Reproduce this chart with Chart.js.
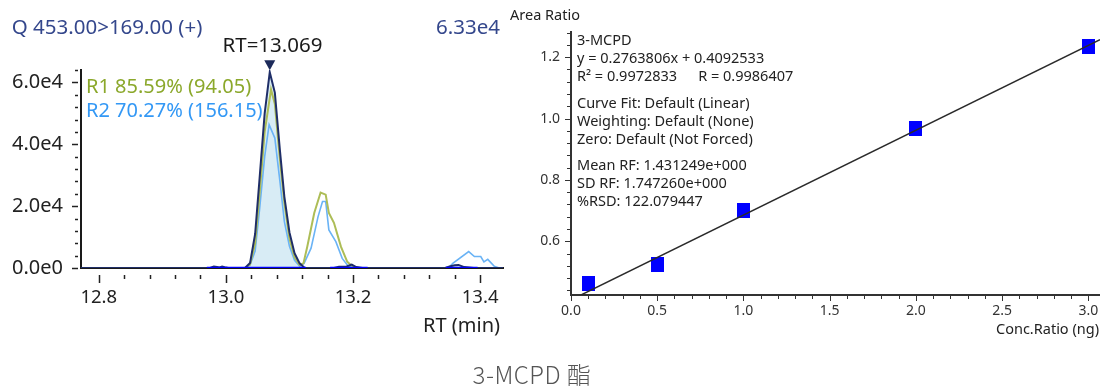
<!DOCTYPE html>
<html>
<head>
<meta charset="utf-8">
<script src="https://cdn.jsdelivr.net/npm/chart.js@4.4.0/dist/chart.umd.min.js"></script>
<style>
  body { margin: 0; width: 1100px; height: 386px; background: #fff; position: relative; overflow: hidden; font-family: 'Noto Sans', sans-serif; }
  .txt { position: absolute; white-space: pre; line-height: 1; }
  #chromChart { position: absolute; left: 0; top: 0; }
  #calChart { position: absolute; left: 505px; top: 0; }
  #calInfo { position: absolute; left: 577px; top: 30.4px; font-size: 14.5px; line-height: 18px; color: #222; }
  #calInfo div div { white-space: nowrap; }
  #calInfo .grp { margin-top: 8.5px; }
  #calInfo .grp:first-child { margin-top: 0; }
</style>
</head>
<body>
<canvas id="chromChart" width="510" height="345"></canvas>
<canvas id="calChart" width="595" height="345"></canvas>

<div class="txt" style="left:11.7px; top:16.1px; font-size:20.5px; color:#34478c;">Q 453.00&gt;169.00 (+)</div>
<div class="txt" style="right:600px; top:16.1px; font-size:20.5px; color:#34478c;">6.33e4</div>
<div class="txt" style="left:272.5px; top:33.5px; font-size:20.5px; color:#1a1a1a; transform:translateX(-50%);">RT=13.069</div>
<div class="txt" style="left:86px; top:76.2px; font-size:20px; color:#8ba82b;">R1 85.59% (94.05)</div>
<div class="txt" style="left:86px; top:99.9px; font-size:20px; color:#3398f5;">R2 70.27% (156.15)</div>
<div class="txt" style="right:600px; top:315.2px; font-size:20px; color:#222;">RT (min)</div>

<div class="txt" style="left:510px; top:7.1px; font-size:14.5px; color:#222;">Area Ratio</div>
<div id="calInfo"><div class="grp"><div>3-MCPD</div><div>y = 0.2763806x + 0.4092533</div><div>R² = 0.9972833<span style="display:inline-block; margin-left:21px;">R = 0.9986407</span></div></div><div class="grp"><div>Curve Fit: Default (Linear)</div><div>Weighting: Default (None)</div><div>Zero: Default (Not Forced)</div></div><div class="grp"><div>Mean RF: 1.431249e+000</div><div>SD RF: 1.747260e+000</div><div>%RSD: 122.079447</div></div></div>
<div class="txt" style="right:1px; top:321.4px; font-size:14.5px; color:#222;">Conc.Ratio (ng)</div>

<div class="txt" style="left:532px; top:362.2px; font-size:24px; font-weight:300; letter-spacing:0.5px; color:#555; font-family:'Noto Sans CJK SC', sans-serif; transform:translateX(-50%);">3-MCPD 酯</div>

<script>
// chromatogram: quantifier trace (navy) and two qualifier traces
const quantRT  = [12.77, 12.975, 12.981, 12.986, 12.990, 12.994, 12.998, 13.004, 13.030, 13.038, 13.046, 13.053, 13.061, 13.069, 13.077, 13.085, 13.092, 13.100, 13.108, 13.116, 13.124, 13.170, 13.178, 13.190, 13.198, 13.205, 13.215, 13.345, 13.352, 13.360, 13.366, 13.375, 13.390, 13.44];
const quantInt = [0, 0, 500, 350, 200, 500, 250, 0, 0, 1600, 11000, 29000, 50000, 63300, 56700, 38000, 23000, 11500, 4800, 1500, 0, 0, 400, 500, 1100, 300, 0, 0, 500, 900, 1000, 300, 0, 0];

const r1RT  = [12.77, 13.030, 13.038, 13.046, 13.053, 13.061, 13.071, 13.077, 13.085, 13.092, 13.100, 13.108, 13.116, 13.122, 13.128, 13.139, 13.149, 13.157, 13.162, 13.170, 13.181, 13.191, 13.199, 13.210, 13.44];
const r1Int = [0, 0, 1200, 8000, 24000, 44000, 57700, 53000, 35000, 21000, 9500, 3500, 1000, 1500, 6900, 17800, 24400, 23700, 17800, 14600, 6900, 2000, 600, 0, 0];

const r2RT  = [12.77, 13.030, 13.038, 13.046, 13.053, 13.061, 13.068, 13.077, 13.085, 13.092, 13.100, 13.108, 13.116, 13.123, 13.134, 13.145, 13.152, 13.157, 13.162, 13.173, 13.183, 13.191, 13.199, 13.350, 13.357, 13.382, 13.391, 13.401, 13.406, 13.412, 13.422, 13.430, 13.44];
const r2Int = [0, 0, 1000, 5500, 19000, 36000, 46300, 42000, 28000, 15000, 7000, 2500, 600, 1500, 6400, 16600, 21500, 21500, 12300, 8500, 3100, 1000, 0, 0, 1500, 5300, 3700, 3700, 2000, 2800, 600, 0, 0];

// integration baselines
const baseStart = [12.970, 13.164, 13.346];
const baseEnd   = [13.126, 13.223, 13.396];

const chromYMajor = [0, 20000, 40000, 60000];
const chromYLabels = ['0.0e0', '2.0e4', '4.0e4', '6.0e4'];
const chromXMajor = [12.8, 13.0, 13.2, 13.4];

// calibration curve
const concRatio = [0.1, 0.5, 1.0, 2.0, 3.0];
const areaRatio = [0.461, 0.525, 0.700, 0.966, 1.234];
const fitX = [0, 3.067];
const fitY = [0.409, 1.257];
const calYMajor = [0.6, 0.8, 1.0, 1.2];
const calXMajor = [0.0, 0.5, 1.0, 1.5, 2.0, 2.5, 3.0];

Chart.defaults.font.family = "'Noto Sans', sans-serif";

const pts = (xs, ys) => xs.map((x, i) => ({ x: x, y: ys[i] }));
const stepTicks = (from, to, step) => {
  const out = [];
  for (let v = from; v <= to + step / 100; v += step) out.push(Math.round(v * 1000) / 1000);
  return out;
};
const isIn = (v, list) => list.some(m => Math.abs(m - v) < 1e-6);

// tick marks, long for labelled ticks, short for the others
const tickMarks = {
  id: 'tickMarks',
  afterDraw(chart, args, o) {
    const { ctx, chartArea: a } = chart;
    const xs = chart.scales.x, ys = chart.scales.y;
    ctx.save();
    ctx.strokeStyle = o.color;
    ctx.lineWidth = o.width;
    xs.ticks.forEach(t => {
      const px = Math.round(xs.getPixelForValue(t.value)) + 0.5;
      const r = t.label !== '' ? o.xMajor : o.xMinor;
      ctx.beginPath(); ctx.moveTo(px, a.bottom + r[0]); ctx.lineTo(px, a.bottom + r[1]); ctx.stroke();
    });
    ys.ticks.forEach(t => {
      const py = Math.round(ys.getPixelForValue(t.value)) + 0.5;
      const r = t.label !== '' ? o.yMajor : o.yMinor;
      ctx.beginPath(); ctx.moveTo(a.left - r[0], py); ctx.lineTo(a.left - r[1], py); ctx.stroke();
    });
    ctx.restore();
  }
};

// retention-time marker above the apex of the quantifier peak
const apexMarker = {
  id: 'apexMarker',
  afterDatasetsDraw(chart) {
    let k = 0;
    quantInt.forEach((v, i) => { if (v > quantInt[k]) k = i; });
    const x = chart.scales.x.getPixelForValue(quantRT[k]);
    const y = chart.scales.y.getPixelForValue(quantInt[k]);
    const ctx = chart.ctx;
    ctx.save();
    ctx.fillStyle = '#1c2a5a';
    ctx.beginPath();
    ctx.moveTo(x - 5.5, y - 12); ctx.lineTo(x + 5.5, y - 12); ctx.lineTo(x, y - 2);
    ctx.closePath(); ctx.fill();
    ctx.restore();
  }
};

// the label gap is made with an invisible tick so Chart.js adds no side padding
const hiddenTicks = len => ({ display: true, drawOnChartArea: false, drawTicks: true, tickLength: len, tickColor: 'rgba(0,0,0,0)' });
const fixHeight = h => s => { s.height = h; s.paddingLeft = 0; s.paddingRight = 0; };

const baseDatasets = baseStart.map((s, i) => ({
  data: [{ x: s, y: 0 }, { x: baseEnd[i], y: 0 }],
  borderColor: '#0000ff', borderWidth: 2.5, fill: false
}));

new Chart(document.getElementById('chromChart'), {
  type: 'line',
  data: {
    datasets: [
      ...baseDatasets,
      { data: pts(quantRT, quantInt), borderColor: '#1f2e68', borderWidth: 2, fill: 'origin', backgroundColor: 'rgba(190,224,238,0.6)' },
      { data: pts(r1RT, r1Int), borderColor: '#adbd57', borderWidth: 2, fill: false },
      { data: pts(r2RT, r2Int), borderColor: '#6ab3f5', borderWidth: 1.6, fill: false }
    ]
  },
  options: {
    responsive: false,
    animation: false,
    layout: { autoPadding: false, padding: { top: 70, right: 7, left: 0, bottom: 0 } },
    elements: { point: { radius: 0 }, line: { tension: 0 } },
    plugins: {
      legend: { display: false },
      tooltip: { enabled: false },
      filler: { drawTime: 'beforeDatasetsDraw' },
      tickMarks: { color: '#222', width: 1.5, xMajor: [7, 15], xMinor: [7, 11], yMajor: [9, 3], yMinor: [6, 3] }
    },
    scales: {
      x: {
        type: 'linear', min: 12.772, max: 13.436,
        afterBuildTicks: s => { s.ticks = stepTicks(12.8, 13.436, 0.04).map(v => ({ value: v })); },
        afterFit: fixHeight(77),
        grid: hiddenTicks(19),
        border: { display: true, color: '#1a1a1a', width: 2 },
        ticks: {
          autoSkip: false, maxRotation: 0, padding: 0, color: '#222', font: { size: 18.5 },
          callback: v => isIn(v, chromXMajor) ? v.toFixed(1) : ''
        }
      },
      y: {
        type: 'linear', min: 0, max: 64000,
        afterBuildTicks: s => { s.ticks = stepTicks(0, 64000, 4000).map(v => ({ value: v })); },
        afterFit: s => { s.width = 81; },
        grid: hiddenTicks(18),
        border: { display: true, color: '#1a1a1a', width: 2 },
        ticks: {
          autoSkip: false, padding: 0, color: '#222', font: { size: 20 },
          callback: v => {
            const i = chromYMajor.findIndex(m => Math.abs(m - v) < 1e-6);
            return i >= 0 ? chromYLabels[i] : '';
          }
        }
      }
    }
  },
  plugins: [tickMarks, apexMarker]
});

// calibration points: blue rectangles
const sq = document.createElement('canvas');
sq.width = 13; sq.height = 15;
const sqCtx = sq.getContext('2d');
sqCtx.fillStyle = '#0000ff';
sqCtx.fillRect(0, 0, 13, 15);

new Chart(document.getElementById('calChart'), {
  type: 'line',
  data: {
    datasets: [
      { data: pts(fitX, fitY), borderColor: '#2a2a2a', borderWidth: 1.5, pointRadius: 0, fill: false },
      { data: pts(concRatio, areaRatio), showLine: false, pointStyle: sq, pointRadius: 7 }
    ]
  },
  options: {
    responsive: false,
    animation: false,
    layout: { autoPadding: false, padding: { top: 32, right: 0, left: 0, bottom: 0 } },
    elements: { line: { tension: 0 } },
    plugins: {
      legend: { display: false },
      tooltip: { enabled: false },
      tickMarks: { color: '#333', width: 1, xMajor: [0, 6], xMinor: [0, 4], yMajor: [6, 0], yMinor: [4, 0] }
    },
    scales: {
      x: {
        type: 'linear', min: 0, max: 3.067,
        afterBuildTicks: s => { s.ticks = stepTicks(0, 3.0, 0.1).map(v => ({ value: v })); },
        afterFit: fixHeight(50),
        grid: hiddenTicks(8),
        border: { display: true, color: '#333', width: 2 },
        ticks: {
          autoSkip: false, maxRotation: 0, padding: 0, color: '#333', font: { size: 14 },
          callback: v => isIn(v, calXMajor) ? v.toFixed(1) : ''
        }
      },
      y: {
        type: 'linear', min: 0.425, max: 1.282,
        afterBuildTicks: s => { s.ticks = stepTicks(0.44, 1.28, 0.04).map(v => ({ value: v })); },
        afterFit: s => { s.width = 66; },
        grid: hiddenTicks(11),
        border: { display: true, color: '#333', width: 2 },
        ticks: {
          autoSkip: false, padding: 0, color: '#333', font: { size: 14 },
          callback: v => isIn(v, calYMajor) ? v.toFixed(1) : ''
        }
      }
    }
  },
  plugins: [tickMarks]
});
</script>
</body>
</html>
